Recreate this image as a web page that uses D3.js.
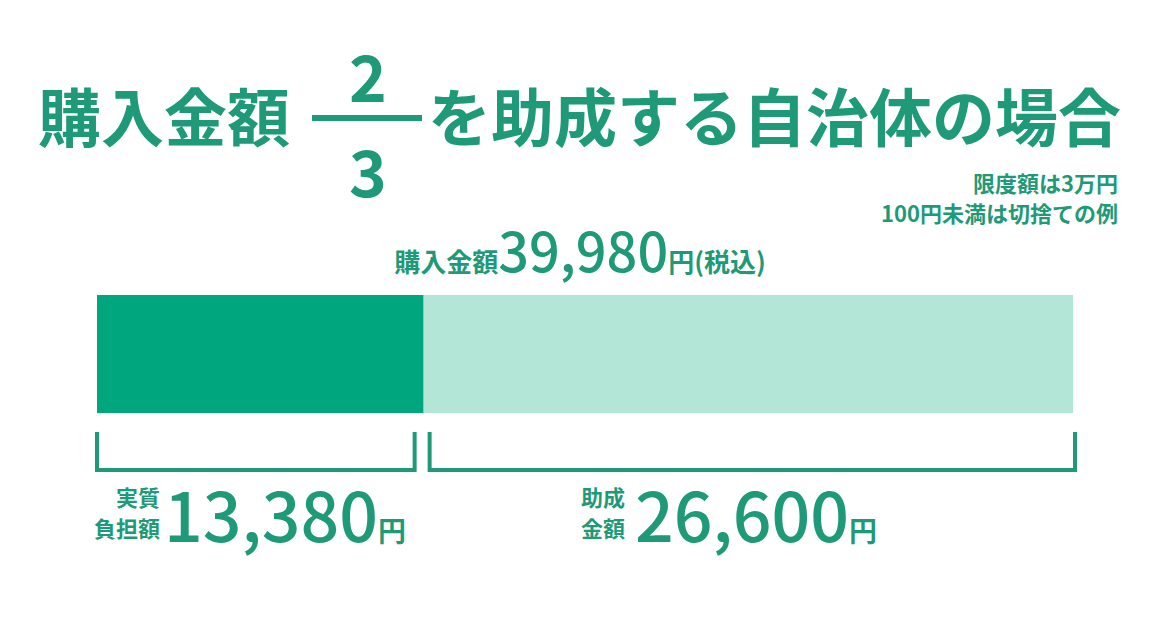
<!DOCTYPE html>
<html>
<head>
<meta charset="utf-8">
<script src="https://cdn.jsdelivr.net/npm/d3@7"></script>
<style>body{margin:0;background:#fff}text{font-family:"Noto Sans CJK JP",sans-serif;font-weight:700}</style>
</head>
<body>
<div id="chart"></div>
<script>
var total = 39980;
var parts = ["実質負担額", "助成金額"];
var values = [13380, 26600];
var colors = ["#00a67e", "#b3e6d6"];
var ink = "#1f9a78";

var width = 1160, height = 625;
var svg = d3.select("#chart").append("svg").attr("width", width).attr("height", height);

var x = d3.scaleLinear().domain([0, total]).range([97, 1073]);

// title
svg.append("text").attr("x", 38).attr("y", 141).attr("font-size", 63).attr("fill", ink).text("購入金額");
svg.append("line").attr("x1", 312).attr("x2", 422).attr("y1", 118).attr("y2", 118)
   .attr("stroke", ink).attr("stroke-width", 6);
svg.append("text").attr("x", 368).attr("y", 102).attr("text-anchor", "middle").attr("font-size", 64).attr("fill", ink).text("2");
svg.append("text").attr("x", 368).attr("y", 197).attr("text-anchor", "middle").attr("font-size", 64).attr("fill", ink).text("3");
svg.append("text").attr("x", 428).attr("y", 141).attr("font-size", 63).attr("fill", ink).text("を助成する自治体の場合");

svg.append("text").attr("x", 1118).attr("y", 192).attr("text-anchor", "end").attr("font-size", 22).attr("fill", ink).text("限度額は3万円");
svg.append("text").attr("x", 1118).attr("y", 222).attr("text-anchor", "end").attr("font-size", 22).attr("fill", ink).text("100円未満は切捨ての例");

// total label
var tl = svg.append("text").attr("x", 580).attr("y", 272).attr("text-anchor", "middle").attr("fill", ink);
tl.append("tspan").attr("font-size", 26).text("購入金額");
tl.append("tspan").attr("font-size", 54).attr("font-weight", 500).text(d3.format(",")(total));
tl.append("tspan").attr("font-size", 26).text("円(税込)");

// bars
var starts = [0, values[0]];
svg.selectAll("rect.seg").data(values).enter().append("rect")
   .attr("x", function(d, i){ return x(starts[i]); })
   .attr("width", function(d){ return x(d) - x(0); })
   .attr("y", 295).attr("height", 118)
   .attr("fill", function(d, i){ return colors[i]; });

// brackets
var br = [[x(0), x(values[0]) - 9], [x(values[0]) + 6, x(total) + 2]];
br.forEach(function(b){
  svg.append("path").attr("d", "M" + b[0] + ",432V470H" + b[1] + "V432")
     .attr("fill", "none").attr("stroke", ink).attr("stroke-width", 4);
});

// value labels
var labelX = [160, 625];
var lines = [["実質", "負担額"], ["助成", "金額"]];
values.forEach(function(v, i){
  lines[i].forEach(function(s, j){
    svg.append("text").attr("x", labelX[i]).attr("y", 506 + j * 31).attr("text-anchor", "end")
       .attr("font-size", 22).attr("fill", ink).text(s);
  });
  var t = svg.append("text").attr("x", labelX[i] + (i ? 10 : 4)).attr("y", 542).attr("fill", ink);
  t.append("tspan").attr("font-size", 68).attr("font-weight", 500).text(d3.format(",")(v));
  t.append("tspan").attr("font-size", 28).text("円");
});
</script>
</body>
</html>
